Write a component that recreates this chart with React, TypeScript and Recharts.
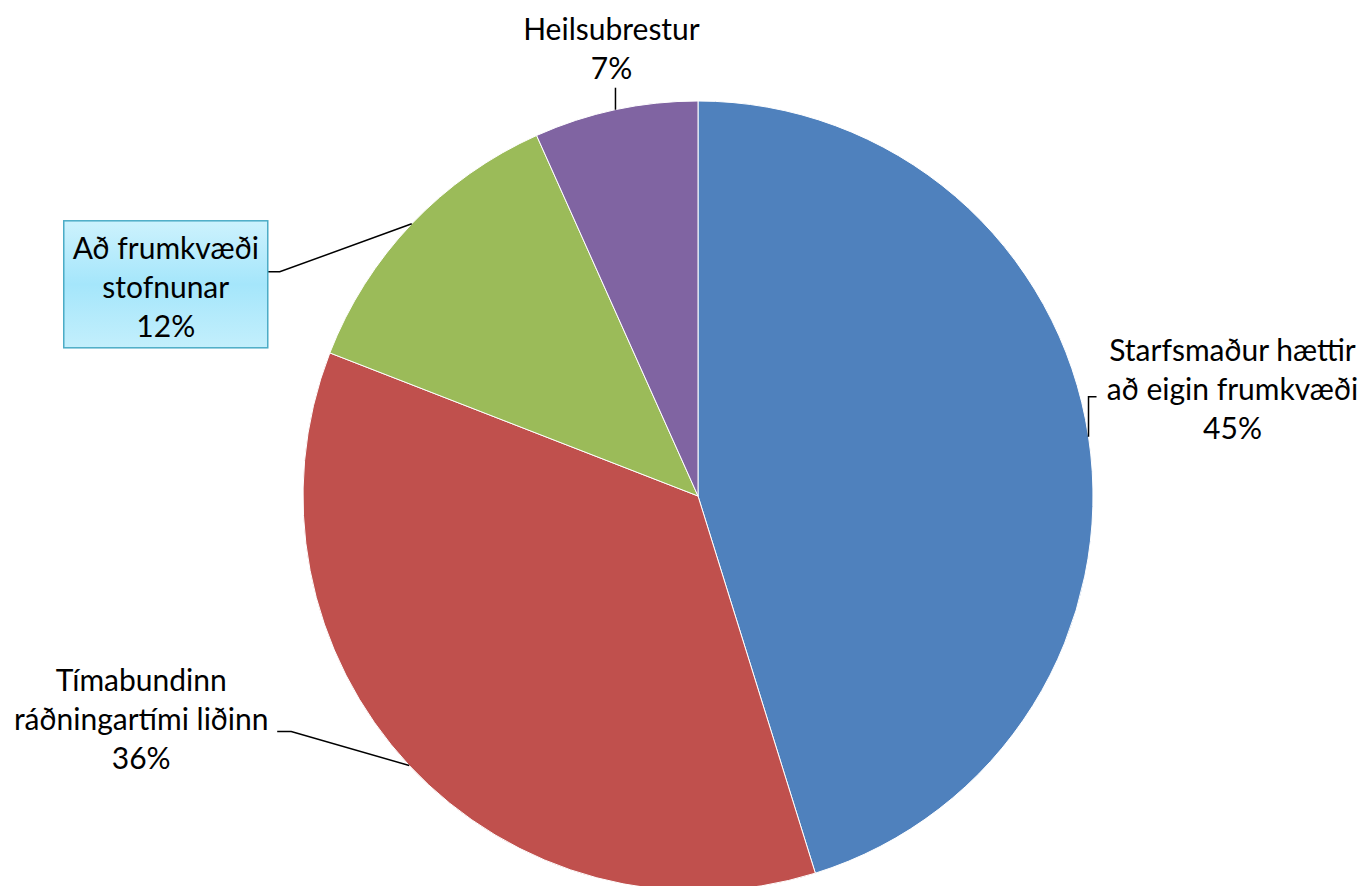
import { PieChart, Pie, Cell } from "recharts";

const categories = [
  "Starfsmaður hættir að eigin frumkvæði",
  "Tímabundinn ráðningartími liðinn",
  "Að frumkvæði stofnunar",
  "Heilsubrestur",
];
const shares = [45.2, 35.7, 12.4, 6.7];
// how each label is broken into lines (the percent goes on the last line)
const labelLines = [
  ["Starfsmaður hættir", "að eigin frumkvæði"],
  ["Tímabundinn", "ráðningartími liðinn"],
  ["Að frumkvæði", "stofnunar"],
  ["Heilsubrestur"],
];
const colors = ["#4F81BD", "#C0504D", "#9BBB59", "#8064A2"];

// label placement relative to the point on the arc at the slice's middle angle
const labelLayout = [
  { line: [[0, 0], [0, -40], [8, -40]], tx: 144, ty: -88, box: null },
  { line: [[0, 0], [-118, -34], [-132, -34]], tx: -268, ty: -86, box: null },
  { line: [[0, 0], [-132, 48], [-144, 48]], tx: -246, ty: 23, box: { x: -348, y: -3, w: 204, h: 127 } },
  { line: [[0, 0], [0, -22]], tx: -4, ty: -82, box: null },
];

const data = categories.map((name, i) => ({ name, value: shares[i] }));
const FONT = "Lato, 'Open Sans', sans-serif";
const LH = 39;

function renderLabel(props: any) {
  const { cx, cy, midAngle, outerRadius, index, percent } = props;
  const RAD = Math.PI / 180;
  const ax = cx + outerRadius * Math.cos(-midAngle * RAD);
  const ay = cy + outerRadius * Math.sin(-midAngle * RAD);
  const lay = labelLayout[index];
  const pts = lay.line.map(([dx, dy]) => `${ax + dx},${ay + dy}`).join(" ");
  const lines = [...labelLines[index], Math.round(percent * 100) + "%"];
  return (
    <g key={"lbl" + index}>
      <polyline points={pts} fill="none" stroke="#000" strokeWidth={1.5} />
      {lay.box && (
        <rect
          x={ax + lay.box.x}
          y={ay + lay.box.y}
          width={lay.box.w}
          height={lay.box.h}
          fill="url(#boxFill)"
          stroke="#4BACC6"
          strokeWidth={1.5}
        />
      )}
      {lines.map((t, k) => (
        <text
          key={k}
          x={ax + lay.tx}
          y={ay + lay.ty + k * LH}
          textAnchor="middle"
          dominantBaseline="central"
          fontFamily={FONT}
          fontSize={30}
          fill="#000"
        >
          {t}
        </text>
      ))}
    </g>
  );
}

export default function App() {
  return (
    <div style={{ width: 1366, height: 886, background: "#fff" }}>
      <style>{`body{margin:0}`}</style>
      <PieChart width={1366} height={886} margin={{ top: 0, right: 0, bottom: 0, left: 0 }}>
        <defs>
          <linearGradient id="boxFill" x1="0" y1="0" x2="0" y2="1">
            <stop offset="0%" stopColor="#CDF2FD" />
            <stop offset="50%" stopColor="#A5E6FB" />
            <stop offset="100%" stopColor="#C3EFFC" />
          </linearGradient>
        </defs>
        <Pie
          data={data}
          dataKey="value"
          nameKey="name"
          cx={698}
          cy={496}
          outerRadius={395}
          startAngle={90}
          endAngle={-270}
          stroke="#fff"
          strokeWidth={1}
          label={renderLabel}
          labelLine={false}
          isAnimationActive={false}
        >
          {data.map((d, i) => (
            <Cell key={d.name} fill={colors[i]} />
          ))}
        </Pie>
      </PieChart>
    </div>
  );
}
